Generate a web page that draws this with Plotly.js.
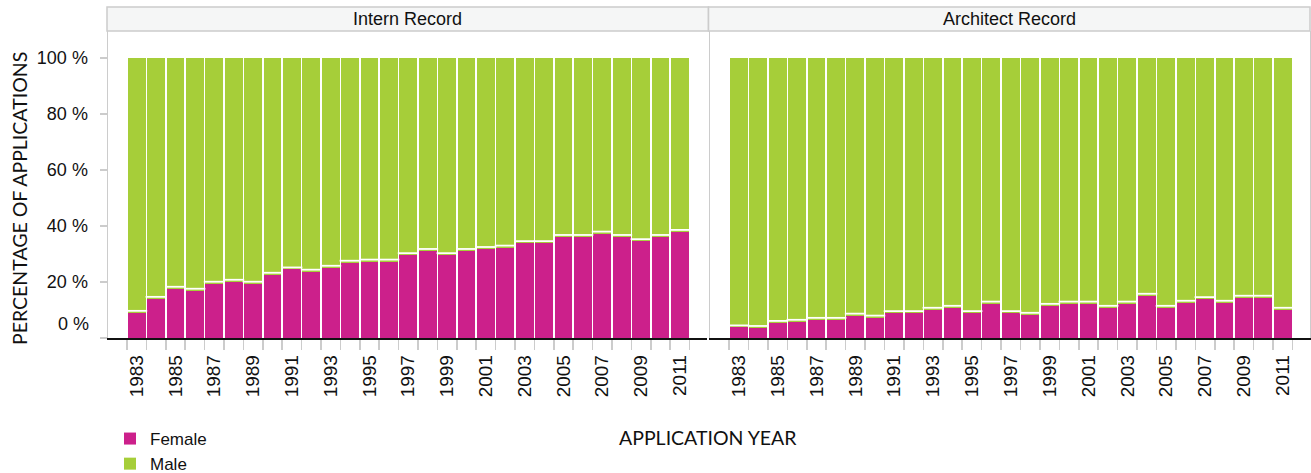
<!DOCTYPE html>
<html>
<head>
<meta charset="utf-8">
<script src="https://cdn.plot.ly/plotly-3.0.1.min.js"></script>
<style>html,body{margin:0;padding:0;background:#fff;}#chart{width:1311px;height:473px;}</style>
</head>
<body>
<div id="chart"></div>
<script>
const years = [1983,1984,1985,1986,1987,1988,1989,1990,1991,1992,1993,1994,1995,1996,1997,1998,1999,2000,2001,2002,2003,2004,2005,2006,2007,2008,2009,2010,2011];
const internFemale = [9.0,14.0,17.6,16.9,19.4,20.1,19.4,22.6,24.5,23.7,25.1,26.9,27.3,27.3,29.6,31.1,29.6,31.1,31.8,32.3,33.9,33.9,36.1,36.1,37.3,36.1,34.6,36.1,37.9];
const internMale = [91.0,86.0,82.4,83.1,80.6,79.9,80.6,77.4,75.5,76.3,74.9,73.1,72.7,72.7,70.4,68.9,70.4,68.9,68.2,67.7,66.1,66.1,63.9,63.9,62.7,63.9,65.4,63.9,62.1];
const architectFemale = [3.8,3.6,5.4,5.8,6.5,6.5,8.0,7.3,8.9,8.9,10.1,10.8,8.9,12.3,8.9,8.3,11.5,12.3,12.3,10.8,12.3,15.1,10.8,12.6,13.9,12.6,14.4,14.4,10.1];
const architectMale = [96.2,96.4,94.6,94.2,93.5,93.5,92.0,92.7,91.1,91.1,89.9,89.2,91.1,87.7,91.1,91.7,88.5,87.7,87.7,89.2,87.7,84.9,89.2,87.4,86.1,87.4,85.6,85.6,89.9];
const panelTitles = ["Intern Record", "Architect Record"];
const seriesNames = ["Female", "Male"];
const yTickVals = [0,20,40,60,80,100];
const yTickText = ["", "20 %", "40 %", "60 %", "80 %", "100 %"];
const xTickVals = [1983,1985,1987,1989,1991,1993,1995,1997,1999,2001,2003,2005,2007,2009,2011];

const FEMALE = '#cc208b', MALE = '#a6ce39', GRAY = '#cccccc';
const ARIAL = '"Liberation Sans", Arial, sans-serif';
const HUM = 'Lato, "Open Sans", sans-serif';

function panel(female, male, xa, ya, legend) {
  return [
    {type:'bar', x: years, y: female, name: seriesNames[0], xaxis: xa, yaxis: ya,
     marker:{color: FEMALE}, showlegend: legend, hoverinfo:'x+y'},
    {type:'bar', x: years, y: male, name: seriesNames[1], xaxis: xa, yaxis: ya,
     marker:{color: MALE}, showlegend: legend, hoverinfo:'x+y'},
    {type:'scatter', mode:'markers', x: years, y: female.map(v => v + 0.7), xaxis: xa, yaxis: ya,
     marker:{symbol:'line-ew', size:15, color:'#ffffff', line:{color:'#ffffff', width:1.8}},
     showlegend:false, hoverinfo:'skip'}
  ];
}

const data = [].concat(
  panel(internFemale, internMale, 'x', 'y', true),
  panel(architectFemale, architectMale, 'x2', 'y2', false)
);

const W = 1311, L = 108, R = 1, T = 7, B = 135;
const pw = W - L - R;              // 1202
const ph = 473 - T - B;            // 331
const yTop = (338 - 31) / ph;      // plot-area top in paper
const px2x = p => (p - L) / pw;

const xCommon = {
  range:[1981.52, 2012.4], tickvals: xTickVals, ticktext: xTickVals.map(String),
  tickangle: -90, ticks:'', showgrid:false, zeroline:false,
  showline:true, linecolor:'#111111', linewidth:1.5,
  tickfont:{family: ARIAL, size:19, color:'#111'}, ticklabelstandoff: 8,
  minor:{tick0:1982.5, dtick:1, ticks:'outside', ticklen:10, tickcolor:GRAY, tickwidth:1.5, showgrid:false}
};
const yCommon = {
  range:[0, 307/2.8], showgrid:false, zeroline:false,
  showline:true, linecolor:GRAY, linewidth:1.5, domain:[0, yTop]
};

const layout = {
  width: W, height: 473,
  margin:{l:L, r:R, t:T, b:B, pad:0, autoexpand:false},
  paper_bgcolor:'#fff', plot_bgcolor:'#fff',
  barmode:'stack', bargap:0.08,
  font:{family: ARIAL, color:'#111'},
  xaxis: Object.assign({}, xCommon, {domain:[0, px2x(707)], anchor:'y'}),
  xaxis2: Object.assign({}, xCommon, {domain:[px2x(710), 1], anchor:'y2'}),
  yaxis: Object.assign({}, yCommon, {anchor:'x', tickvals: yTickVals, ticktext: yTickText,
    ticks:'outside', ticklen:7, tickcolor:GRAY, tickwidth:1.5,
    tickfont:{family: ARIAL, size:18, color:'#111'}, ticklabelstandoff: 8}),
  yaxis2: Object.assign({}, yCommon, {anchor:'x2', showticklabels:false, ticks:'', mirror:true}),
  showlegend:true,
  legend:{x: px2x(110), xanchor:'left', y:(338-421)/ph, yanchor:'top', orientation:'v',
    traceorder:'normal',
    font:{family: ARIAL, size:17, color:'#111'}, bgcolor:'rgba(0,0,0,0)', tracegroupgap:0,
    itemclick:false, itemdoubleclick:false},
  shapes:[
    {type:'rect', xref:'paper', yref:'paper', x0:px2x(107), x1:px2x(708.5), y0:yTop, y1:1,
     fillcolor:'#f5f6f6', line:{color:GRAY, width:1.5}, layer:'below'},
    {type:'rect', xref:'paper', yref:'paper', x0:px2x(708.5), x1:px2x(1310), y0:yTop, y1:1,
     fillcolor:'#f5f6f6', line:{color:GRAY, width:1.5}, layer:'below'}
  ],
  annotations:[
    {xref:'paper', yref:'paper', x:(px2x(107)+px2x(708.5))/2, y:(yTop+1)/2, text:panelTitles[0],
     showarrow:false, xanchor:'center', yanchor:'middle', font:{family:ARIAL, size:18, color:'#111'}},
    {xref:'paper', yref:'paper', x:(px2x(708.5)+px2x(1310))/2, y:(yTop+1)/2, text:panelTitles[1],
     showarrow:false, xanchor:'center', yanchor:'middle', font:{family:ARIAL, size:18, color:'#111'}},
    {xref:'paper', yref:'y', x:px2x(91), y:5, text:'0 %', showarrow:false, xanchor:'right', yanchor:'middle',
     font:{family:ARIAL, size:18, color:'#111'}},
    {xref:'paper', yref:'paper', x:px2x(708), y:(338-437)/ph, text:'APPLICATION YEAR', showarrow:false,
     xanchor:'center', yanchor:'middle', font:{family:HUM, size:19.5, color:'#111'}},
    {xref:'paper', yref:'paper', x:px2x(19), y:(338-199)/ph, text:'PERCENTAGE OF APPLICATIONS', showarrow:false,
     textangle:-90, xanchor:'center', yanchor:'middle', font:{family:HUM, size:19.5, color:'#111'}}
  ]
};

Plotly.newPlot('chart', data, layout, {displayModeBar:false, staticPlot:true});
</script>
</body>
</html>
